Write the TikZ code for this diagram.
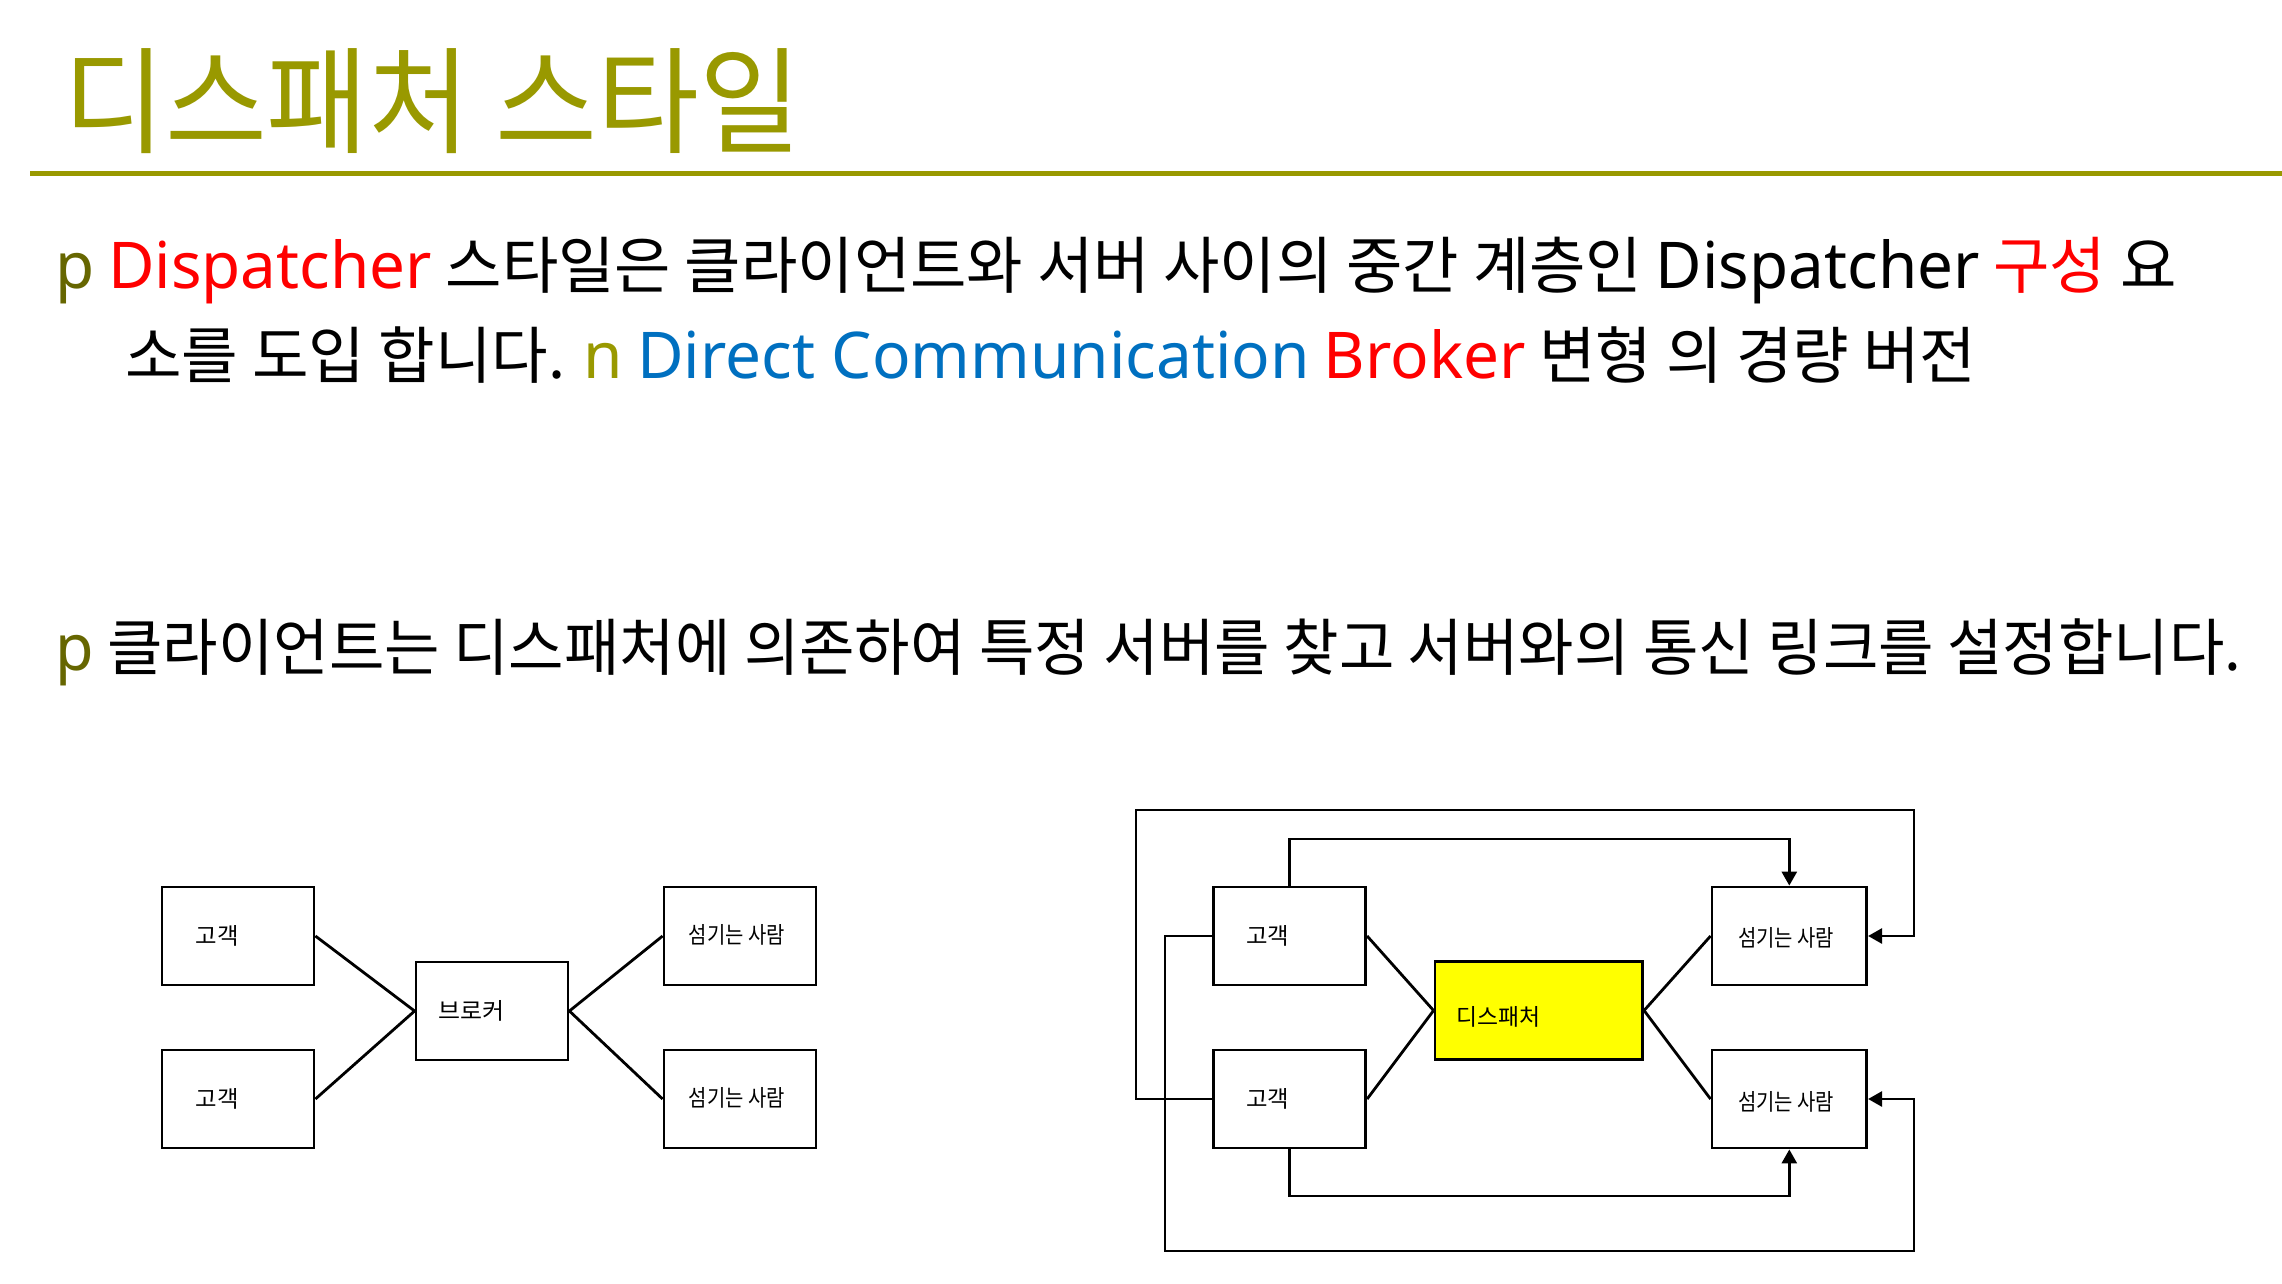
\documentclass[tikz,border=0pt]{standalone}
\usepackage{fontspec}
\setmainfont{Noto Sans CJK KR}
\newfontfamily\lat[Scale=1.04]{Noto Sans}
\usetikzlibrary{arrows.meta}
\definecolor{titleol}{RGB}{153,153,0}
\definecolor{bulol}{RGB}{102,102,0}
\definecolor{bulol2}{RGB}{153,153,0}
\definecolor{bluetxt}{RGB}{0,112,192}
\definecolor{redtxt}{RGB}{255,0,0}
\definecolor{dispyel}{RGB}{255,255,0}
\newcommand\fitw[2]{\resizebox{#1}{\height}{#2}}
\begin{document}
\begin{tikzpicture}[x=1pt,y=-1pt,
  body/.style={anchor=base west, inner sep=0pt, font=\fontsize{62}{74}\selectfont},
  box/.style={draw, line width=2.8pt, minimum width=152pt, minimum height=98pt, inner sep=0pt},
  lbl/.style={anchor=west, inner sep=0pt, font=\fontsize{23}{28}\selectfont},
  conn/.style={line width=2.8pt},
  arr/.style={conn, -{Triangle[length=14pt,width=15pt]}}]
\useasboundingbox (0,0) rectangle (2282,1284);
\fill[white] (0,0) rectangle (2282,1284);
% title
\node[anchor=base west, inner sep=0pt, text=titleol, font=\fontsize{116}{130}\selectfont] (title) at (63,145) {\fitw{738pt}{디스패처 스타일}};
\coordinate (ruleL) at (30,173.5);
\coordinate (ruleR) at (2282,173.5);
\draw[titleol, line width=5.5pt] (ruleL) -- (ruleR);
% body text
\node[body] (l1) at (55,288) {\fitw{2121pt}{{\color{bulol}\lat p} {\color{redtxt}\lat Dispatcher} 스타일은 클라이언트와 서버 사이의 중간 계층인 {\lat Dispatcher} {\color{redtxt}구성} 요}};
\node[body] (l2) at (125,378) {\fitw{1851pt}{소를 도입 합니다. {\color{bulol2}\lat n} {\color{bluetxt}\lat Direct Communication} {\color{redtxt}\lat Broker} 변형 의 경량 버전}};
\node[body] (l3) at (55,670) {\fitw{2186pt}{{\color{bulol}\lat p} 클라이언트는 디스패처에 의존하여 특정 서버를 찾고 서버와의 통신 링크를 설정합니다.}};
% left diagram
\node[box] (c1) at (238,936) {};
\node[box] (c2) at (238,1099) {};
\node[box] (br) at (492,1011) {};
\node[box] (s1) at (740,936) {};
\node[box] (s2) at (740,1099) {};
\node[lbl] (c1t) at ([xshift=35pt]c1.west) {\fitw{43pt}{고객}};
\node[lbl] (c2t) at ([xshift=35pt]c2.west) {\fitw{43pt}{고객}};
\node[lbl] (brt) at ([xshift=24pt]br.west) {\fitw{66pt}{브로커}};
\node[lbl] (s1t) at ([xshift=26pt,yshift=1pt]s1.west) {\fitw{96pt}{섬기는 사람}};
\node[lbl] (s2t) at ([xshift=26pt,yshift=1pt]s2.west) {\fitw{96pt}{섬기는 사람}};
\draw[conn] (c1.east) -- (br.west);
\draw[conn] (c2.east) -- (br.west);
\draw[conn] (br.east) -- (s1.west);
\draw[conn] (br.east) -- (s2.west);
% right diagram
\node[box] (rc1) at (1289.7,936) {};
\node[box] (rc2) at (1289.7,1099) {};
\node[box, fill=dispyel, minimum width=207.7pt, minimum height=97.6pt] (dp) at (1538.8,1010.5) {};
\node[box, minimum width=154.7pt] (rs1) at (1789.3,936) {};
\node[box, minimum width=154.7pt] (rs2) at (1789.3,1099) {};
\node[lbl] (rc1t) at ([xshift=33.5pt]rc1.west) {\fitw{43pt}{고객}};
\node[lbl] (rc2t) at ([xshift=33.5pt]rc2.west) {\fitw{43pt}{고객}};
\node[lbl] (dpt) at ([xshift=22.5pt,yshift=-6pt]dp.west) {\fitw{84pt}{디스패처}};
\node[lbl] (rs1t) at ([xshift=27.5pt,yshift=-1.5pt]rs1.west) {\fitw{96pt}{섬기는 사람}};
\node[lbl] (rs2t) at ([xshift=27.5pt,yshift=-2.5pt]rs2.west) {\fitw{96pt}{섬기는 사람}};
\draw[conn] (rc1.east) -- (dp.west);
\draw[conn] (rc2.east) -- (dp.west);
\draw[conn] (dp.east) -- (rs1.west);
\draw[conn] (dp.east) -- (rs2.west);
\coordinate (yt) at (0,839);
\coordinate (yb) at (0,1196);
\coordinate (o1) at (1136,810);
\coordinate (o2) at (1914,810);
\coordinate (o3) at (1165,1251);
\coordinate (o4) at (1914,1251);
\draw[arr] (rc1.north) -- (rc1.north |- yt) -| (rs1.north);
\draw[arr] (rc2.south) -- (rc2.south |- yb) -| (rs2.south);
\draw[arr] (rc2.west) -| (o1) -- (o2) |- (rs1.east);
\draw[arr] (rc1.west) -| (o3) -- (o4) |- (rs2.east);
\end{tikzpicture}
\end{document}
